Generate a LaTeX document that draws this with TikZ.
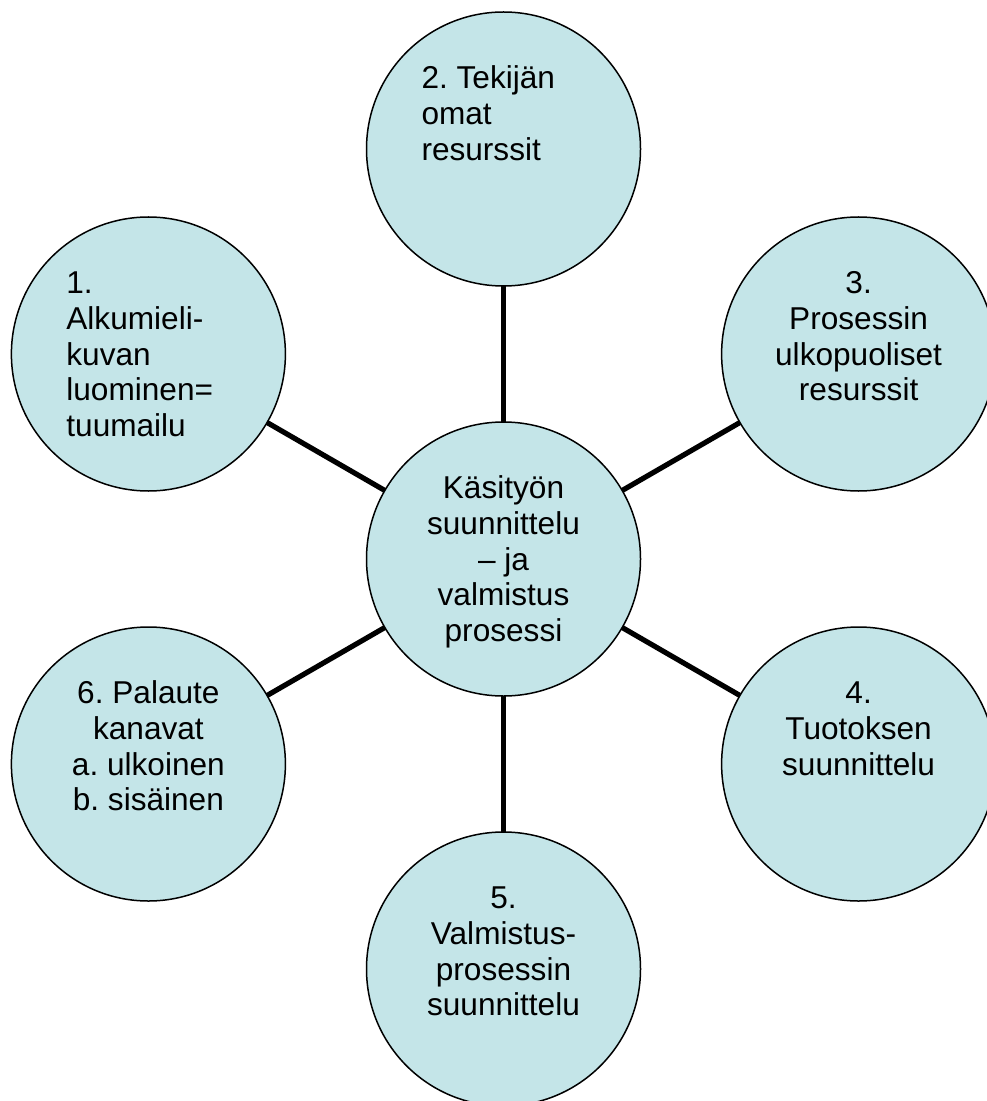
\documentclass[tikz,border=0pt]{standalone}
\usepackage{fontspec}
\setmainfont{Liberation Sans}
\usetikzlibrary{calc}
\definecolor{bub}{RGB}{196,229,232}
\frenchspacing
\begin{document}
\begin{tikzpicture}[x=0.5pt,y=-0.5pt,
  bubble/.style={circle, draw=black, line width=0.75pt, fill=bub, minimum size=137pt, inner sep=0pt, outer sep=0pt},
  conn/.style={line width=2.6pt, draw=black},
  txt/.style={inner sep=0pt, outer sep=0pt, text=black, font=\fontsize{15.8pt}{17.9pt}\selectfont\frenchspacing}]
\useasboundingbox (0,0) rectangle (986,1101);
\node[bubble] (c)  at (503.5,559) {};
\node[bubble] (n2) at (503.5,149) {};
\node[bubble] (n1) at (148.4,354) {};
\node[bubble] (n3) at (858.6,354) {};
\node[bubble] (n4) at (858.6,764) {};
\node[bubble] (n5) at (503.5,969) {};
\node[bubble] (n6) at (148.4,764) {};
\foreach \n in {n1,n2,n3,n4,n5,n6} \draw[conn] (c) -- (\n);
\node[txt, anchor=base] (tc) at ($(c.center)+(0,-60.5)$)
  {\begin{tabular}[t]{@{}c@{}}Käsityön\\suunnittelu\\– ja\\valmistus\\prosessi\end{tabular}};
\node[txt, anchor=base west] (t2) at ($(n2.center)+(-82,-60.5)$)
  {\begin{tabular}[t]{@{}l@{}}2. Tekijän\\omat\\resurssit\end{tabular}};
\node[txt, anchor=base west] (t1) at ($(n1.center)+(-82,-60.5)$)
  {\begin{tabular}[t]{@{}l@{}}1.\\Alkumieli-\\kuvan\\luominen=\\tuumailu\end{tabular}};
\node[txt, anchor=base] (t3) at ($(n3.center)+(0,-60.5)$)
  {\begin{tabular}[t]{@{}c@{}}3.\\Prosessin\\ulkopuoliset\\resurssit\end{tabular}};
\node[txt, anchor=base] (t4) at ($(n4.center)+(0,-60.5)$)
  {\begin{tabular}[t]{@{}c@{}}4.\\Tuotoksen\\suunnittelu\end{tabular}};
\node[txt, anchor=base] (t5) at ($(n5.center)+(0,-60.5)$)
  {\begin{tabular}[t]{@{}c@{}}5.\\Valmistus-\\prosessin\\suunnittelu\end{tabular}};
\node[txt, anchor=base] (t6) at ($(n6.center)+(0,-60.5)$)
  {\begin{tabular}[t]{@{}c@{}}6. Palaute\\kanavat\\a. ulkoinen\\b. sisäinen\end{tabular}};
\end{tikzpicture}
\end{document}
